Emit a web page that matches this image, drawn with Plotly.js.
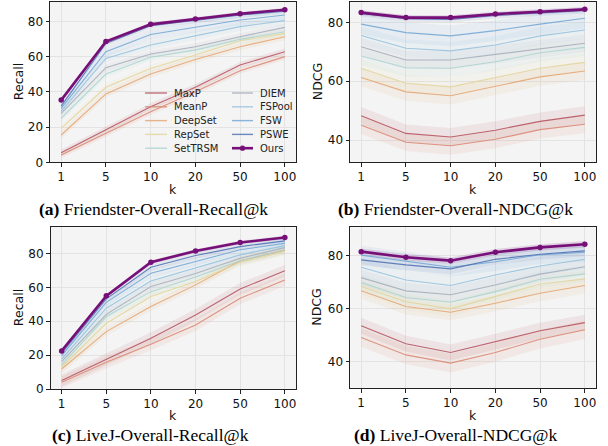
<!DOCTYPE html>
<html>
<head>
<meta charset="utf-8">
<script src="https://cdn.plot.ly/plotly-3.0.1.min.js"></script>
<style>
  html, body { margin: 0; padding: 0; background: #ffffff; }
  #chart { width: 608px; height: 446px; }
</style>
</head>
<body>
<div id="chart"></div>
<script>
// ---------- data ----------
const K_LABELS = ['1', '5', '10', '20', '50', '100'];
const METHODS = ['MaxP', 'MeanP', 'DeepSet', 'RepSet', 'SetTRSM', 'DIEM', 'FSPool', 'FSW', 'PSWE', 'Ours'];
const COLORS = ['#b44e5a', '#d9846f', '#e4a36f', '#e3d399', '#a9d3cf', '#a2abb9', '#92c0dd', '#6fa5d3', '#4a6db1', '#760f78'];

// rows follow METHODS order
const friendsterRecall = [
  [5.4, 18.3, 31.6, 42.6, 55.2, 62.8],
  [4.1, 16.5, 28.7, 40.1, 52.0, 60.0],
  [15.5, 38.8, 50.1, 58.4, 65.6, 71.3],
  [19.3, 42.6, 53.3, 60.9, 69.0, 73.2],
  [25.0, 50.1, 59.6, 63.7, 69.8, 74.1],
  [27.8, 53.7, 61.5, 65.6, 71.3, 76.6],
  [29.1, 59.0, 66.6, 71.7, 77.0, 80.4],
  [30.6, 62.8, 72.6, 76.6, 80.8, 83.6],
  [31.9, 67.5, 77.5, 80.6, 83.6, 85.8],
  [35.3, 68.6, 78.3, 81.3, 84.3, 86.6]
];
const friendsterNdcg = [
  [48.3, 42.3, 41.1, 43.4, 46.4, 48.5],
  [45.1, 39.3, 38.1, 40.3, 43.6, 45.4],
  [61.3, 56.4, 55.1, 58.4, 61.5, 63.5],
  [64.4, 59.3, 58.1, 61.3, 64.4, 66.4],
  [68.6, 64.6, 64.4, 66.6, 69.7, 71.5],
  [71.7, 67.2, 67.2, 69.1, 71.2, 72.9],
  [75.5, 71.2, 70.3, 72.3, 75.4, 77.4],
  [79.4, 76.5, 75.4, 77.2, 79.4, 81.4],
  [83.0, 81.2, 81.0, 82.3, 83.2, 84.0],
  [83.3, 81.6, 81.6, 82.8, 83.6, 84.4]
];
const livejRecall = [
  [5.0, 17.7, 30.0, 43.7, 59.1, 69.8],
  [4.0, 15.8, 26.4, 37.8, 53.6, 64.4],
  [11.8, 33.9, 48.7, 61.5, 75.8, 82.0],
  [13.0, 38.8, 54.6, 63.5, 74.8, 81.2],
  [14.2, 42.8, 57.5, 66.2, 75.7, 82.2],
  [16.2, 44.1, 60.5, 68.2, 77.2, 83.5],
  [17.7, 47.7, 63.8, 71.5, 79.2, 84.7],
  [19.7, 51.2, 68.4, 75.5, 82.2, 86.1],
  [21.1, 53.2, 71.9, 78.8, 84.1, 87.5],
  [22.5, 55.0, 74.9, 81.5, 86.5, 89.5]
];
const livejNdcg = [
  [53.5, 46.7, 43.4, 47.5, 51.6, 54.7],
  [49.1, 42.5, 39.4, 43.4, 48.4, 52.0],
  [66.7, 60.8, 58.6, 62.0, 65.8, 68.7],
  [68.3, 62.6, 59.9, 64.5, 69.3, 71.2],
  [69.9, 64.2, 62.4, 66.4, 71.1, 73.1],
  [71.7, 66.7, 65.2, 68.9, 73.0, 75.8],
  [75.6, 70.8, 68.7, 72.7, 76.1, 78.6],
  [80.2, 78.0, 75.6, 77.7, 80.3, 81.3],
  [78.4, 76.5, 75.0, 78.6, 80.5, 81.8],
  [81.5, 79.4, 78.1, 81.3, 83.1, 84.3]
];
// half-width of the shaded band per method
const friendsterRecallSpread = [1.8, 1.8, 2.0, 2.0, 2.0, 2.0, 2.5, 3.0, 1.5, 1.0];
const friendsterNdcgSpread   = [3.0, 3.0, 3.0, 3.0, 3.0, 3.0, 3.0, 3.5, 1.0, 0.8];
const livejRecallSpread      = [3.5, 3.5, 2.5, 2.5, 2.5, 2.5, 2.5, 2.5, 2.0, 1.0];
const livejNdcgSpread        = [3.0, 3.5, 3.0, 3.0, 3.0, 3.0, 3.5, 3.5, 2.0, 1.2];

const PANELS = [
  { data: friendsterRecall, spread: friendsterRecallSpread, ax: '',  yTitle: 'Recall', caption: 'Friendster-Overall-Recall@k', tag: '(a)' },
  { data: friendsterNdcg,   spread: friendsterNdcgSpread,   ax: '2', yTitle: 'NDCG',   caption: 'Friendster-Overall-NDCG@k',   tag: '(b)' },
  { data: livejRecall,      spread: livejRecallSpread,      ax: '3', yTitle: 'Recall', caption: 'LiveJ-Overall-Recall@k',      tag: '(c)' },
  { data: livejNdcg,        spread: livejNdcgSpread,        ax: '4', yTitle: 'NDCG',   caption: 'LiveJ-Overall-NDCG@k',        tag: '(d)' }
];

// ---------- layout geometry ----------
const W = 608, H = 446;
const px = v => v / W;
const py = v => 1 - v / H;
const GEOM = [
  { x: [50, 296],  y: [2, 162.3], yr: [0, 91],     ticks: [0, 20, 40, 60, 80], kY: 189, capY: 209, capX: 153, yt: 18 },
  { x: [350, 596], y: [2, 162.3], yr: [32.5, 86.9], ticks: [40, 60, 80],       kY: 189, capY: 209, capX: 455, yt: 317 },
  { x: [50.5, 296], y: [227.3, 389], yr: [0, 95.5], ticks: [0, 20, 40, 60, 80], kY: 415, capY: 434.5, capX: 150, yt: 18 },
  { x: [350, 596], y: [227.3, 388], yr: [30, 90.7],  ticks: [40, 60, 80],       kY: 415, capY: 434.5, capX: 455, yt: 317 }
];
// manual two-column legend placement (pixels)
const LEG = { col: [[145, 167, 172], [232, 253, 258]], y0: 93, dy: 13.8 };

function rgba(hex, a) {
  const n = parseInt(hex.slice(1), 16);
  return 'rgba(' + ((n >> 16) & 255) + ',' + ((n >> 8) & 255) + ',' + (n & 255) + ',' + a + ')';
}

const traces = [];
PANELS.forEach((p, pi) => {
  const xa = 'x' + p.ax, ya = 'y' + p.ax;
  // bands
  METHODS.forEach((m, i) => {
    const s = p.spread[i];
    traces.push({
      x: K_LABELS, y: p.data[i].map(v => v + s), xaxis: xa, yaxis: ya,
      mode: 'lines', line: { width: 0, color: 'rgba(0,0,0,0)' },
      showlegend: false, hoverinfo: 'skip'
    });
    traces.push({
      x: K_LABELS, y: p.data[i].map(v => v - s), xaxis: xa, yaxis: ya,
      mode: 'lines', line: { width: 0, color: 'rgba(0,0,0,0)' },
      fill: 'tonexty', fillcolor: rgba(COLORS[i], i === 9 ? 0.15 : 0.1),
      showlegend: false, hoverinfo: 'skip'
    });
  });
  // lines
  METHODS.forEach((m, i) => {
    const isOurs = m === 'Ours';
    traces.push({
      x: K_LABELS, y: p.data[i], xaxis: xa, yaxis: ya, name: m,
      mode: isOurs ? 'lines+markers' : 'lines',
      line: { color: isOurs ? COLORS[i] : rgba(COLORS[i], 0.85), width: isOurs ? 2.6 : 1.1 },
      marker: { size: 5.5, color: COLORS[i] },
      showlegend: false
    });
  });
});

const layout = {
  width: W, height: H,
  margin: { l: 0, r: 0, t: 0, b: 0 },
  paper_bgcolor: '#ffffff',
  showlegend: false,
  font: { family: 'DejaVu Sans, sans-serif', size: 11, color: '#111' },
  annotations: [],
  shapes: []
};

PANELS.forEach((p, pi) => {
  const g = GEOM[pi];
  const xk = 'xaxis' + p.ax, yk = 'yaxis' + p.ax;
  layout[xk] = {
    domain: [px(g.x[0]), px(g.x[1])],
    anchor: 'y' + p.ax,
    type: 'category',
    range: [-0.25, 5.25],
    showgrid: true, gridcolor: '#e3e3e3', gridwidth: 1,
    showline: true, linecolor: '#222', linewidth: 1, mirror: true,
    ticks: 'outside', ticklen: 3.5, tickcolor: '#222',
    tickfont: { size: 12, family: 'DejaVu Sans, sans-serif', color: '#111' },
    zeroline: false, fixedrange: true
  };
  layout[yk] = {
    domain: [py(g.y[1]), py(g.y[0])],
    anchor: 'x' + p.ax,
    range: g.yr,
    tickvals: g.ticks, ticktext: g.ticks.map(String),
    showgrid: true, gridcolor: '#e3e3e3', gridwidth: 1,
    showline: true, linecolor: '#222', linewidth: 1, mirror: true,
    ticks: 'outside', ticklen: 3.5, tickcolor: '#222',
    tickfont: { size: 12, family: 'DejaVu Sans, sans-serif', color: '#111' },
    zeroline: false, fixedrange: true
  };
  layout.shapes.push({
    type: 'rect', xref: 'paper', yref: 'paper', layer: 'below',
    x0: px(g.x[0]), x1: px(g.x[1]), y0: py(g.y[1]), y1: py(g.y[0]),
    fillcolor: '#f4f4f4', line: { width: 0 }
  });
  layout.annotations.push({
    text: p.yTitle, xref: 'paper', yref: 'paper', x: px(g.yt), y: py((g.y[0] + g.y[1]) / 2),
    textangle: -90, showarrow: false, xanchor: 'center', yanchor: 'middle',
    font: { size: 12.5, family: 'DejaVu Sans, sans-serif', color: '#111' }
  });
  layout.annotations.push({
    text: 'k', xref: 'paper', yref: 'paper', x: px((g.x[0] + g.x[1]) / 2), y: py(g.kY),
    showarrow: false, xanchor: 'center', yanchor: 'middle',
    font: { size: 12.5, family: 'DejaVu Sans, sans-serif', color: '#111' }
  });
  layout.annotations.push({
    text: '<b>' + p.tag + '</b> ' + p.caption, xref: 'paper', yref: 'paper',
    x: px(g.capX), y: py(g.capY), showarrow: false, xanchor: 'center', yanchor: 'middle',
    font: { size: 17.5, family: 'Liberation Serif, Times New Roman, serif', color: '#000' }
  });
});

// legend drawn in panel (a)
METHODS.forEach((m, i) => {
  const c = LEG.col[i < 5 ? 0 : 1];
  const yy = LEG.y0 + (i % 5) * LEG.dy;
  const isOurs = m === 'Ours';
  layout.shapes.push({
    type: 'line', xref: 'paper', yref: 'paper',
    x0: px(c[0]), x1: px(c[1]), y0: py(yy), y1: py(yy),
    line: { color: isOurs ? COLORS[i] : rgba(COLORS[i], 0.8), width: isOurs ? 2.6 : 1.4 }
  });
  if (isOurs) {
    const mx = (c[0] + c[1]) / 2, r = 2.6;
    layout.shapes.push({
      type: 'circle', xref: 'paper', yref: 'paper',
      x0: px(mx - r), x1: px(mx + r), y0: py(yy + r), y1: py(yy - r),
      fillcolor: COLORS[i], line: { width: 0 }
    });
  }
  layout.annotations.push({
    text: m, xref: 'paper', yref: 'paper', x: px(c[2]), y: py(yy),
    showarrow: false, xanchor: 'left', yanchor: 'middle',
    font: { size: 10, family: 'DejaVu Sans, sans-serif', color: '#222' }
  });
});

Plotly.newPlot('chart', traces, layout, { displayModeBar: false, staticPlot: true });
</script>
</body>
</html>
